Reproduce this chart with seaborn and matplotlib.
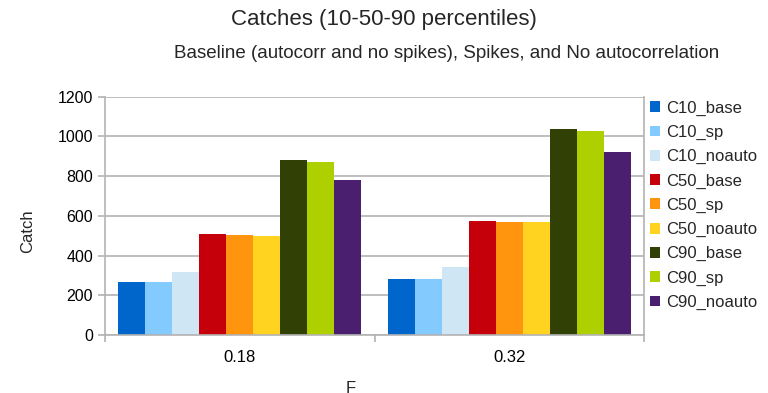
import matplotlib
matplotlib.use("Agg")
import matplotlib.pyplot as plt
import seaborn as sns
import pandas as pd
from matplotlib.ticker import FixedLocator

# Fishing mortality levels (x categories)
f_levels = ["0.18", "0.32"]

# Catch percentiles per scenario
series_names = ["C10_base", "C10_sp", "C10_noauto",
                "C50_base", "C50_sp", "C50_noauto",
                "C90_base", "C90_sp", "C90_noauto"]
catch_f018 = [267, 267, 317, 508, 503, 498, 881, 871, 780]
catch_f032 = [282, 282, 342, 574, 569, 569, 1037, 1027, 921]

series_colors = ["#0066cc", "#83caff", "#cfe7f5",
                 "#c5000b", "#ff950e", "#ffd320",
                 "#314004", "#aecf00", "#4b1f6f"]

rows = []
for f, vals in zip(f_levels, [catch_f018, catch_f032]):
    for name, v in zip(series_names, vals):
        rows.append({"F": f, "Series": name, "Catch": v})
df = pd.DataFrame(rows)

sns.set_theme(style="white")
plt.rcParams["font.family"] = ["Liberation Sans", "DejaVu Sans"]

fig = plt.figure(figsize=(7.68, 3.93), dpi=100)
ax = fig.add_axes([105 / 768, 58 / 393, 539 / 768, 238.3 / 393])

sns.barplot(data=df, x="F", y="Catch", hue="Series", order=f_levels,
            hue_order=series_names, palette=series_colors, width=0.9,
            gap=0, saturation=1, ax=ax, errorbar=None, linewidth=0,
            edgecolor="none")

grid_c = "#b3b3b3"
ax.set_xlim(-0.5, 1.5)
ax.set_ylim(0, 1200)
ax.set_yticks(range(0, 1201, 200))
ax.yaxis.grid(True, color=grid_c, linewidth=1.2)
ax.set_axisbelow(True)
for side in ["left", "right", "bottom"]:
    ax.spines[side].set_visible(True)
    ax.spines[side].set_color(grid_c)
    ax.spines[side].set_linewidth(1.2)
ax.spines["top"].set_visible(False)

ax.tick_params(axis="y", which="major", length=5, width=1.2, color=grid_c,
               labelsize=11.5, pad=3.5, left=True, labelcolor="#000000")
ax.xaxis.set_minor_locator(FixedLocator([-0.5, 0.5, 1.5]))
ax.tick_params(axis="x", which="minor", length=5, width=1.2, color=grid_c,
               bottom=True)
ax.tick_params(axis="x", which="major", length=0, labelsize=12, pad=11,
               labelcolor="#000000")

ax.set_xlabel("")
ax.set_ylabel("")

fig.text(28 / 768, 1 - 231 / 393, "Catch", rotation=90, ha="center",
         va="center", fontsize=12)
fig.text(351 / 768, 1 - 381 / 393, "F", ha="center", va="top", fontsize=12)

fig.text(384 / 768, 1 - 19 / 393, "Catches (10-50-90 percentiles)",
         ha="center", va="center", fontsize=16)
fig.text(447 / 768, 1 - 53 / 393,
         "Baseline (autocorr and no spikes), Spikes, and No autocorrelation",
         ha="center", va="center", fontsize=13.5)

handles, labels = ax.get_legend_handles_labels()
ax.get_legend().remove()
fig.legend(handles, labels, loc="upper left",
           bbox_to_anchor=(650 / 768, 1 - 100.5 / 393), frameon=False,
           fontsize=12, handlelength=0.62, handleheight=0.62,
           handletextpad=0.35, labelspacing=0.55, borderpad=0,
           borderaxespad=0)

fig.savefig("out.png", dpi=100)
